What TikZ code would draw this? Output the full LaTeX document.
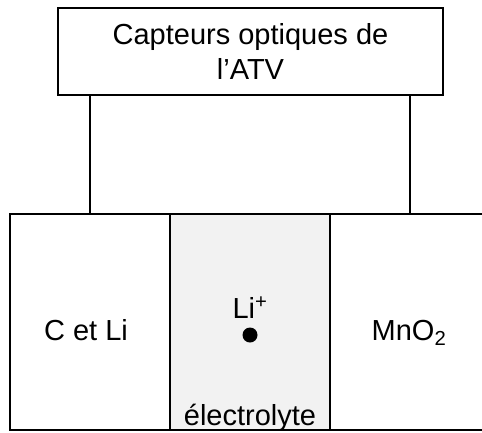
\documentclass[tikz,border=0pt]{standalone}
\usepackage{fontspec}
\setmainfont{Liberation Sans}
\usetikzlibrary{positioning}
\definecolor{elecgray}{RGB}{242,242,242}

\begin{document}
\begin{tikzpicture}[
    x=1pt, y=-1pt,
    node distance=0pt,
    every node/.style={font=\fontsize{29}{35}\selectfont},
    topbox/.style={rectangle, draw, line width=1.5pt, minimum width=385pt,
                   minimum height=87pt, inner sep=0pt, outer sep=0pt, align=center},
    cell/.style={rectangle, draw, line width=1.5pt, minimum width=160pt,
                 minimum height=216pt, inner sep=0pt, outer sep=0pt},
    wire/.style={line width=1.5pt}
]
    \useasboundingbox (0,0) rectangle (482,432);
    \node[topbox] (capteurs) at (250.5,51.5) {Capteurs optiques de\\l’ATV};
    \node[cell] (anode) at (90,322) {};
    \node[cell, right=of anode, fill=elecgray] (elec) {};
    \node[cell, right=of elec] (cathode) {};
    % labels
    \node[anchor=base] (cetli) at (86,340) {C et Li};
    \node[anchor=base] (mno) at (409,340) {MnO\textsubscript{2}};
    \node[anchor=base] (lion) at (250,318) {Li\textsuperscript{+}};
    \node[anchor=base] (elabel) at (250,425) {électrolyte};
    \fill (250,335) circle (7.5pt);
    % wires
    \draw[wire] (anode.north) -- (anode.north |- capteurs.south);
    \draw[wire] (cathode.north) -- (cathode.north |- capteurs.south);
\end{tikzpicture}
\end{document}
